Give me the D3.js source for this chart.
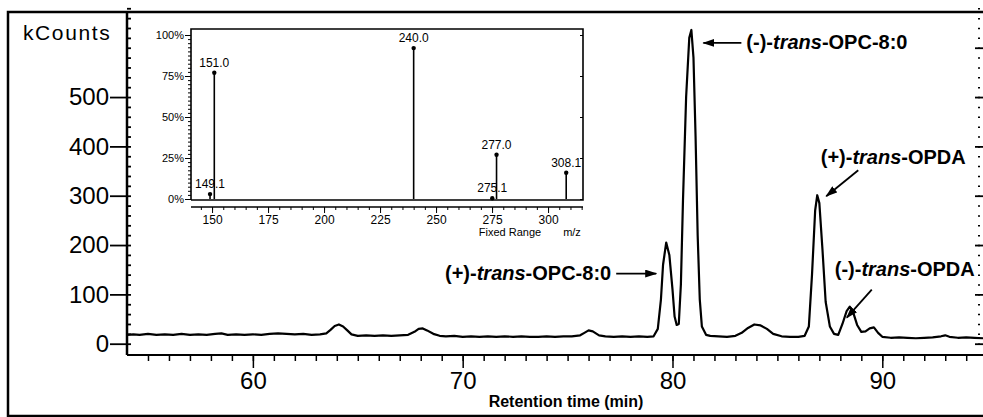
<!DOCTYPE html>
<html>
<head>
<meta charset="utf-8">
<script src="https://cdn.jsdelivr.net/npm/d3@7"></script>
<style>
  body { margin: 0; background: #fff; }
  svg { display: block; font-family: "Liberation Sans", Arial, sans-serif; }
</style>
</head>
<body>
<div id="chart"></div>
<script>
// chromatogram trace (retention time in min, kCounts)
const rtTime = [54.0, 54.3, 54.6, 55.0, 55.4, 55.8, 56.2, 56.6, 57.0, 57.4, 57.8, 58.2, 58.5, 58.8, 59.2, 59.6,
  60.0, 60.4, 60.8, 61.2, 61.6, 62.0, 62.4, 62.8, 63.2, 63.5, 63.7, 63.9, 64.1, 64.3, 64.5, 64.7,
  65.0, 65.4, 65.8, 66.2, 66.6, 67.0, 67.4, 67.7, 67.9, 68.1, 68.3, 68.6, 68.9, 69.2, 69.6,
  70.0, 70.4, 70.8, 71.2, 71.6, 72.0, 72.4, 72.8, 73.2, 73.6, 74.0, 74.4, 74.8, 75.2, 75.6, 75.8,
  76.0, 76.2, 76.5, 76.8, 77.2, 77.6, 78.0, 78.4, 78.8, 79.1, 79.3, 79.45, 79.55, 79.7, 79.85,
  80.0, 80.1, 80.2, 80.3, 80.4, 80.5, 80.65, 80.8, 80.9, 81.0, 81.1, 81.2, 81.3, 81.4, 81.6, 81.8,
  82.2, 82.6, 83.0, 83.3, 83.6, 83.9, 84.2, 84.5, 84.8, 85.2, 85.6, 86.0, 86.3, 86.5, 86.65, 86.8,
  86.9, 87.0, 87.15, 87.3, 87.5, 87.7, 87.9, 88.1, 88.3, 88.45, 88.6, 88.8, 89.0, 89.2, 89.4, 89.6,
  89.8, 90.0, 90.4, 90.8, 91.2, 91.6, 92.0, 92.4, 92.8, 93.0, 93.2, 93.6, 94.0, 94.4, 94.8];
const rtCounts = [18, 19, 18, 20, 18, 19, 18, 20, 18, 19, 18, 20, 21, 18, 19, 18,
  19, 18, 20, 21, 20, 19, 20, 18, 19, 21, 28, 36, 39, 35, 27, 19,
  16, 17, 16, 17, 16, 17, 18, 24, 30, 31, 27, 20, 16, 15, 16,
  14, 15, 14, 15, 14, 15, 14, 15, 14, 14, 15, 14, 15, 15, 17, 22,
  27, 25, 17, 15, 14, 15, 14, 15, 14, 15, 30, 90, 160, 205, 180,
  110, 55, 38, 40, 120, 290, 500, 620, 636, 580, 420, 220, 90, 35, 18, 16,
  15, 14, 16, 22, 32, 39, 37, 30, 20, 15, 14, 14, 16, 35, 140, 270,
  301, 285, 190, 85, 35, 20, 18, 40, 66, 75, 65, 38, 24, 25, 31, 33,
  22, 14, 12, 13, 12, 11, 12, 13, 15, 17, 14, 12, 13, 12, 11];

const yTicks = [0, 100, 200, 300, 400, 500];
const xTicks = [60, 70, 80, 90];

// annotated peaks
const peakLabels = ["(-)-", "(+)-", "(+)-", "(-)-"];
const peakNames = ["OPC-8:0", "OPC-8:0", "OPDA", "OPDA"];
const peakTimes = [80.9, 79.7, 86.9, 88.45];
const peakCounts = [636, 205, 301, 75];

// inset mass spectrum
const msMz = [149.1, 151.0, 240.0, 275.1, 277.0, 308.1];
const msPct = [3, 77, 92, 0.5, 27, 16];
const msXTicks = [150, 175, 200, 225, 250, 275, 300];
const msYTicks = [0, 25, 50, 75, 100];

const width = 983;
const height = 417;

const svg = d3.select("#chart").append("svg")
  .attr("width", width).attr("height", height)
  .attr("viewBox", [0, 0, width, height]);

svg.append("defs").append("marker")
  .attr("id", "arrow")
  .attr("viewBox", "0 0 12 8")
  .attr("refX", 11).attr("refY", 4)
  .attr("markerWidth", 12).attr("markerHeight", 8)
  .attr("markerUnits", "userSpaceOnUse")
  .attr("orient", "auto")
  .append("path").attr("d", "M0,0L12,4L0,8Z").attr("fill", "#000");

const x = d3.scaleLinear([54, 94.8], [127, 983]);
const y = d3.scaleLinear([0, 700], [343.7, -1.6]);
const axisY = 355;

// outer frame
svg.append("path")
  .attr("d", "M990,12H8V416H990")
  .attr("fill", "none").attr("stroke", "#000").attr("stroke-width", 2.5);

// y axis
svg.append("line").attr("x1", 127).attr("x2", 127).attr("y1", 12).attr("y2", axisY)
  .attr("stroke", "#000").attr("stroke-width", 2.5);

svg.append("g")
  .attr("transform", "translate(127,0)")
  .call(d3.axisLeft(y).tickValues(yTicks).tickSize(17).tickPadding(1))
  .call((g) => g.select(".domain").remove())
  .call((g) => g.selectAll("line").attr("stroke-width", 1.8))
  .call((g) => g.selectAll("text").attr("font-size", 24).attr("fill", "#000")
    .attr("font-family", "'Liberation Sans', Arial, sans-serif"));

svg.append("g")
  .attr("transform", "translate(127,0)")
  .call(d3.axisRight(y).tickValues(d3.range(0, 681, 20)).tickSize(4).tickFormat(""))
  .call((g) => g.select(".domain").remove())
  .call((g) => g.selectAll("line").attr("stroke-width", 1.8));

svg.append("text")
  .attr("x", 23).attr("y", 40)
  .attr("font-size", 21).attr("letter-spacing", 1.6)
  .text("kCounts");

// right side axis (cut off by the picture edge)
svg.append("g")
  .attr("transform", "translate(984,0)")
  .call(d3.axisLeft(y).tickValues(yTicks.concat([600])).tickSize(9).tickFormat(""))
  .call((g) => g.select(".domain").remove())
  .call((g) => g.selectAll("line").attr("stroke-width", 1.8));

svg.append("g")
  .attr("transform", "translate(980,0)")
  .call(d3.axisLeft(y).tickValues(d3.range(0, 681, 20)).tickSize(2).tickFormat(""))
  .call((g) => g.select(".domain").remove())
  .call((g) => g.selectAll("line").attr("stroke-width", 1.5));

// x axis
svg.append("line").attr("x1", 127).attr("x2", 983).attr("y1", axisY).attr("y2", axisY)
  .attr("stroke", "#000").attr("stroke-width", 2);

svg.append("g")
  .attr("transform", `translate(0,${axisY})`)
  .call(d3.axisBottom(x).tickValues(xTicks).tickSize(13).tickPadding(4))
  .call((g) => g.select(".domain").remove())
  .call((g) => g.selectAll("line").attr("stroke-width", 1.5))
  .call((g) => g.selectAll("text").attr("font-size", 24).attr("fill", "#000")
    .attr("font-family", "'Liberation Sans', Arial, sans-serif"));

svg.append("g")
  .attr("transform", `translate(0,${axisY})`)
  .call(d3.axisBottom(x).tickValues(d3.range(55, 95, 1)).tickSize(6).tickFormat(""))
  .call((g) => g.select(".domain").remove())
  .call((g) => g.selectAll("line").attr("stroke-width", 1.5));

svg.append("text")
  .attr("x", 566).attr("y", 407)
  .attr("text-anchor", "middle")
  .attr("font-size", 16).attr("font-weight", "bold")
  .text("Retention time (min)");

// chromatogram
const line = d3.line()
  .x((i) => x(rtTime[i]))
  .y((i) => y(rtCounts[i]));

svg.append("path")
  .attr("fill", "none")
  .attr("stroke", "#000")
  .attr("stroke-width", 2.2)
  .attr("stroke-linejoin", "round")
  .attr("d", line(d3.range(rtTime.length)));

// peak annotations: arrow start/end offsets from the peak, text anchor
const annLayout = [
  { tail: [50, 13], head: [12, 13], tx: 55, ty: 19, anchor: "start" },
  { tail: [-50, 31], head: [-10, 31], tx: -55, ty: 37, anchor: "end" },
  { tail: [41, -25], head: [9, 1], tx: 76, ty: -31, anchor: "middle" },
  { tail: [22, -17], head: [-3, 11], tx: 55, ty: -31, anchor: "middle" }
];

annLayout.forEach((a, i) => {
  const px = x(peakTimes[i]);
  const py = y(peakCounts[i]);
  svg.append("line")
    .attr("x1", px + a.tail[0]).attr("y1", py + a.tail[1])
    .attr("x2", px + a.head[0]).attr("y2", py + a.head[1])
    .attr("stroke", "#000").attr("stroke-width", 1.8)
    .attr("marker-end", "url(#arrow)");
  const t = svg.append("text")
    .attr("x", px + a.tx).attr("y", py + a.ty)
    .attr("text-anchor", a.anchor)
    .attr("font-size", 20).attr("font-weight", "bold");
  t.append("tspan").text(peakLabels[i]);
  t.append("tspan").attr("font-style", "italic").text("trans");
  t.append("tspan").text("-" + peakNames[i]);
});

// inset mass spectrum
const xi = d3.scaleLinear([140.6, 315.6], [191, 583]);
const yi = d3.scaleLinear([0, 100], [199, 35]);

const inset = svg.append("g");

inset.append("path")
  .attr("d", "M191,200V29H583V200H191")
  .attr("fill", "none").attr("stroke", "#000").attr("stroke-width", 1.6);

inset.append("g")
  .attr("transform", "translate(191,0)")
  .call(d3.axisLeft(yi).tickValues(msYTicks).tickSize(6).tickPadding(1).tickFormat((d) => d + "%"))
  .call((g) => g.select(".domain").remove())
  .call((g) => g.selectAll("text").attr("font-size", 11).attr("fill", "#000")
    .attr("font-family", "'Liberation Sans', Arial, sans-serif"));

inset.append("g")
  .attr("transform", "translate(191,0)")
  .call(d3.axisLeft(yi).tickValues(d3.range(0, 101, 2.5)).tickSize(3).tickFormat(""))
  .call((g) => g.select(".domain").remove());

inset.append("g")
  .attr("transform", "translate(583,0)")
  .call(d3.axisLeft(yi).tickValues(msYTicks).tickSize(3).tickFormat(""))
  .call((g) => g.select(".domain").remove());

inset.append("line").attr("x1", 191).attr("x2", 583).attr("y1", 207).attr("y2", 207)
  .attr("stroke", "#000").attr("stroke-width", 1.6);

inset.append("g")
  .attr("transform", "translate(0,207)")
  .call(d3.axisBottom(xi).tickValues(msXTicks).tickSize(6).tickPadding(2))
  .call((g) => g.select(".domain").remove())
  .call((g) => g.selectAll("text").attr("font-size", 12).attr("fill", "#000")
    .attr("font-family", "'Liberation Sans', Arial, sans-serif"));

inset.append("g")
  .attr("transform", "translate(0,207)")
  .call(d3.axisBottom(xi).tickValues(d3.range(145, 316, 5)).tickSize(3).tickFormat(""))
  .call((g) => g.select(".domain").remove());

inset.append("text")
  .attr("x", 510).attr("y", 236)
  .attr("text-anchor", "middle").attr("font-size", 11)
  .text("Fixed Range");
inset.append("text")
  .attr("x", 572).attr("y", 236)
  .attr("text-anchor", "middle").attr("font-size", 11)
  .text("m/z");

inset.selectAll(".stem")
  .data(msMz)
  .enter()
  .append("line")
  .attr("x1", (d) => xi(d)).attr("x2", (d) => xi(d))
  .attr("y1", yi(0)).attr("y2", (d, i) => yi(msPct[i]))
  .attr("stroke", "#000").attr("stroke-width", 1.6);

inset.selectAll(".tip")
  .data(msMz)
  .enter()
  .append("circle")
  .attr("cx", (d) => xi(d)).attr("cy", (d, i) => yi(msPct[i]))
  .attr("r", 2.2).attr("fill", "#000");

inset.selectAll(".lbl")
  .data(msMz)
  .enter()
  .append("text")
  .attr("x", (d) => xi(d))
  .attr("y", (d, i) => yi(msPct[i]) - 6)
  .attr("text-anchor", "middle")
  .attr("font-size", 12)
  .text((d) => d.toFixed(1));
</script>
</body>
</html>
